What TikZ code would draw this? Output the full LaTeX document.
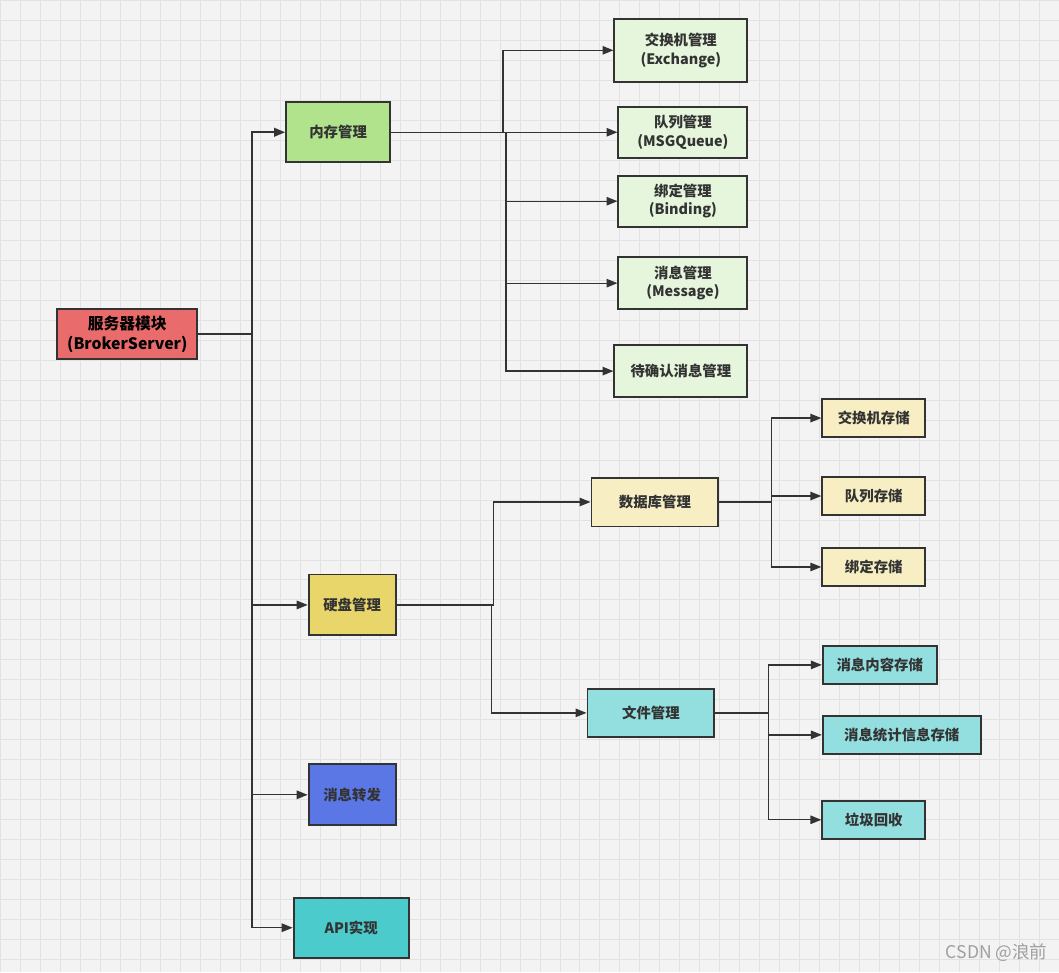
\documentclass[tikz,border=0pt]{standalone}
\usepackage{fontspec}
\setmainfont{Noto Sans CJK SC}
\usetikzlibrary{arrows.meta}
\definecolor{bg}{RGB}{243,243,243}
\definecolor{gridc}{RGB}{226,226,226}
\definecolor{ln}{RGB}{51,51,51}
\definecolor{txt}{RGB}{51,51,51}
\definecolor{cRoot}{RGB}{234,107,107}
\definecolor{cMem}{RGB}{176,227,140}
\definecolor{cMemL}{RGB}{230,246,220}
\definecolor{cDisk}{RGB}{233,214,107}
\definecolor{cDb}{RGB}{247,239,195}
\definecolor{cFile}{RGB}{147,223,223}
\definecolor{cFwd}{RGB}{91,119,230}
\definecolor{cApi}{RGB}{75,203,203}
\tikzset{
  % boîte générique
  bx/.style={rectangle, draw=ln, line width=1.1pt, inner sep=0pt, align=center,
             font=\fontsize{8.2}{10.5}\selectfont\bfseries, text=txt},
  % flèche orthogonale
  ar/.style={-{Triangle[length=2.2mm,width=1.7mm]}, draw=ln, line width=0.75pt}
}
\begin{document}
\begin{tikzpicture}[x=0.02cm,y=-0.02cm]
    % ---- fond quadrillé ----
    \fill[bg] (0,0) rectangle (1059,972);
    \draw[gridc, line width=0.4pt, step=0.4cm] (0,0) grid (1059,972);
    \useasboundingbox (0,0) rectangle (1059,972);

    % ---- racine et modules ----
    \node[bx, fill=cRoot, text=black, minimum width=2.8cm, minimum height=1.0cm,
          font=\fontsize{9}{11.5}\selectfont\bfseries] (root) at (127,334) {服务器模块\\(BrokerServer)};
    \node[bx, fill=cMem,  minimum width=2.08cm, minimum height=1.2cm]  (mem)  at (338,132) {内存管理};
    \node[bx, fill=cDisk, minimum width=1.74cm, minimum height=1.22cm] (disk) at (352,605) {硬盘管理};
    \node[bx, fill=cFwd,  minimum width=1.74cm, minimum height=1.22cm] (fwd)  at (352,795) {消息转发};
    \node[bx, fill=cApi,  minimum width=2.3cm,  minimum height=1.2cm]  (api)  at (351,928) {API实现};

    \draw[ar, line width=1.1pt] (root.east) -- ++(54,0) |- (mem.west);
    \draw[ar] (root.east) -- ++(54,0) |- (disk.west);
    \draw[ar] (root.east) -- ++(54,0) |- (fwd.west);
    \draw[ar] (root.east) -- ++(54,0) |- (api.west);

    % ---- mémoire ----
    \node[bx, fill=cMemL, minimum width=2.66cm, minimum height=1.26cm] (exch)  at (681,50)  {交换机管理\\(Exchange)};
    \node[bx, fill=cMemL, minimum width=2.58cm, minimum height=1.02cm] (queue) at (683,132) {队列管理\\(MSGQueue)};
    \node[bx, fill=cMemL, minimum width=2.58cm, minimum height=1.02cm] (bind)  at (683,201) {绑定管理\\(Binding)};
    \node[bx, fill=cMemL, minimum width=2.58cm, minimum height=1.04cm] (msg)   at (683,283) {消息管理\\(Message)};
    \node[bx, fill=cMemL, minimum width=2.66cm, minimum height=1.04cm] (ack)   at (681,371) {待确认消息管理};

    \draw[ar] (mem.east) -- ++(112,0) |- (exch.west);
    \draw[ar] (mem.east) -- (queue.west);
    \draw[ar] (mem.east) -- ++(115,0) |- (bind.west);
    \draw[ar] (mem.east) -- ++(115,0) |- (msg.west);
    \draw[ar] (mem.east) -- ++(115,0) |- (ack.west);

    % ---- disque ----
    \node[bx, fill=cDb,   minimum width=2.54cm, minimum height=0.98cm] (db)   at (655,502) {数据库管理};
    \node[bx, fill=cFile, minimum width=2.54cm, minimum height=0.96cm] (file) at (651,713) {文件管理};

    \draw[ar] (disk.east) -- ++(97,0) |- (db.west);
    \draw[ar] (disk.east) -- ++(95,0) |- (file.west);

    \node[bx, fill=cDb, minimum width=2.06cm, minimum height=0.76cm] (exs) at (874,418) {交换机存储};
    \node[bx, fill=cDb, minimum width=2.06cm, minimum height=0.76cm] (qs)  at (874,496) {队列存储};
    \node[bx, fill=cDb, minimum width=2.06cm, minimum height=0.76cm] (bs)  at (874,567) {绑定存储};

    \draw[ar] (db.east) -- ++(52,0) |- (exs.west);
    \draw[ar] (db.east) -- ++(52,0) |- (qs.west);
    \draw[ar] (db.east) -- ++(52,0) |- (bs.west);

    \node[bx, fill=cFile, minimum width=2.28cm, minimum height=0.76cm] (mcs) at (880,665) {消息内容存储};
    \node[bx, fill=cFile, minimum width=3.16cm, minimum height=0.76cm] (mss) at (902,735) {消息统计信息存储};
    \node[bx, fill=cFile, minimum width=2.06cm, minimum height=0.76cm] (gc)  at (874,820) {垃圾回收};

    \draw[ar] (file.east) -- ++(53,0) |- (mcs.west);
    \draw[ar] (file.east) -- ++(53,0) |- (mss.west);
    \draw[ar] (file.east) -- ++(53,0) |- (gc.west);

    % filigrane
    \node[text=gray!75, font=\fontsize{10}{12}\selectfont, anchor=east] (wm) at (1054,953) {CSDN @浪前};
\end{tikzpicture}
\end{document}
